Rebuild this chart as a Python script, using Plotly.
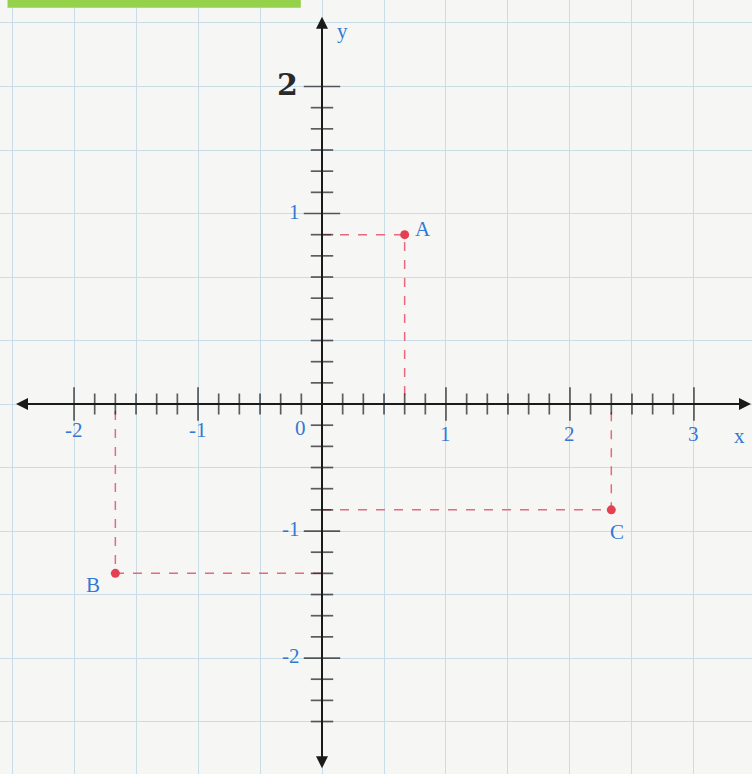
import plotly.graph_objects as go

# points as drawn on the grid (x in units, y counted in the drawn sixth-ticks)
point_names = ["A", "B", "C"]
point_x = [4/6, -10/6, 14/6]
point_y = [8/6, -8/6, -5/6]

# axis labels
x_tick_vals = [-2, -1, 1, 2, 3]
x_tick_text = ["-2", "-1", "1", "2", "3"]
y_tick_vals = [1.5, -1, -2]
y_tick_text = ["1", "-1", "-2"]

blue = "#3577d4"
red = "#e5404f"
pink = "#e8697c"
ink = "#1a1a1a"

x_ticks = [i / 6 for i in range(-12, 19) if i != 0]
y_ticks = [i / 6 for i in range(-15, 16) if i != 0]

fig = go.Figure()

# dashed projections
for px_, py_ in zip(point_x, point_y):
    fig.add_trace(go.Scatter(x=[0, px_, px_], y=[py_, py_, 0], mode="lines",
                             line=dict(color=pink, width=1.5, dash="dash"),
                             hoverinfo="skip"))

# tick marks crossing the axes
fig.add_trace(go.Scatter(x=x_ticks, y=[0] * len(x_ticks), mode="markers",
                         marker=dict(symbol="line-ns-open", color=ink,
                                     size=[24 if abs(v - round(v)) < 1e-9 else 15 for v in x_ticks],
                                     line=dict(color=ink, width=1.7)),
                         hoverinfo="skip"))
fig.add_trace(go.Scatter(x=[0] * len(y_ticks), y=y_ticks, mode="markers",
                         marker=dict(symbol="line-ew-open", color=ink,
                                     size=[26 if v in (2.5, 1.5, -1, -2) else 16 for v in y_ticks],
                                     line=dict(color=ink, width=1.7)),
                         hoverinfo="skip"))

# points
fig.add_trace(go.Scatter(x=point_x, y=point_y, mode="markers",
                         marker=dict(color=red, size=9), hoverinfo="skip"))

# axes with arrowheads
fig.add_annotation(x=3.46, y=0, ax=-2.48, ay=0, axref="x", ayref="y", text="",
                   showarrow=True, arrowside="end+start", arrowhead=2, arrowsize=1.2,
                   arrowwidth=2, arrowcolor=ink)
fig.add_annotation(x=0, y=3.05, ax=0, ay=-2.88, axref="x", ayref="y", text="",
                   showarrow=True, arrowside="end+start", arrowhead=2, arrowsize=1.2,
                   arrowwidth=2, arrowcolor=ink)

font = dict(family="Liberation Serif", size=21, color=blue)
for v, t in zip(x_tick_vals, x_tick_text):
    fig.add_annotation(x=v, y=0, text=t, showarrow=False, yshift=-26 if v < 0 else -30, font=font)
fig.add_annotation(x=0, y=0, text="0", showarrow=False, xshift=-22, yshift=-24, font=font)
for v, t in zip(y_tick_vals, y_tick_text):
    fig.add_annotation(x=0, y=v, text=t, showarrow=False, xanchor="right", xshift=-20, yshift=2, font=font)
fig.add_annotation(x=0, y=2.5, text="<b>2</b>", showarrow=False, xanchor="right", xshift=-22, yshift=2,
                   font=dict(family="DejaVu Serif", size=30, color="#2a2a2a"))
fig.add_annotation(x=3.45, y=0, text="x", showarrow=False, xshift=-10, yshift=-32, font=font)
fig.add_annotation(x=0, y=3.05, text="y", showarrow=False, xshift=20, yshift=-14, font=font)

# point labels
fig.add_annotation(x=point_x[0], y=point_y[0], text=point_names[0], showarrow=False, xshift=18, yshift=6, font=font)
fig.add_annotation(x=point_x[1], y=point_y[1], text=point_names[1], showarrow=False, xshift=-22, yshift=-12, font=font)
fig.add_annotation(x=point_x[2], y=point_y[2], text=point_names[2], showarrow=False, xshift=6, yshift=-22, font=font)

# green marker stroke at the top edge of the photo
fig.add_shape(type="rect", xref="paper", yref="paper", x0=0.01, x1=0.4, y0=0.99, y1=1.02,
              fillcolor="#93d24a", line=dict(width=0), layer="above")

fig.update_layout(
    width=752, height=774,
    margin=dict(l=0, r=0, t=0, b=0),
    paper_bgcolor="#f6f7f5", plot_bgcolor="#f6f7f5",
    showlegend=False,
    xaxis=dict(range=[-2.597, 3.468], dtick=0.5, tick0=0, showgrid=True, gridcolor="#c9dde9",
               gridwidth=1, zeroline=False, showticklabels=False, showline=False, fixedrange=True),
    yaxis=dict(range=[-2.913, 3.181], dtick=0.5, tick0=0, showgrid=True, gridcolor="#c9dde9",
               gridwidth=1, zeroline=False, showticklabels=False, showline=False, fixedrange=True),
)

fig.write_html("out.html", config={"displayModeBar": False},
               post_script="document.body.style.margin='0';")
